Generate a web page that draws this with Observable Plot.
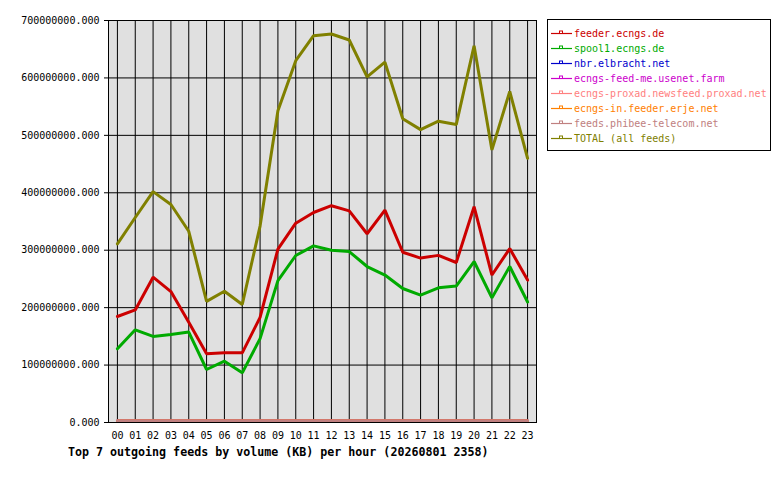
<!DOCTYPE html>
<html>
<head>
<meta charset="utf-8">
<script src="https://cdn.jsdelivr.net/npm/d3@7"></script>
<script src="https://cdn.jsdelivr.net/npm/@observablehq/plot@0.6"></script>
<style>
  html, body { margin: 0; padding: 0; background: #fff; }
  #wrap { position: relative; width: 780px; height: 480px; font-family: "DejaVu Sans Mono", monospace; }
  #legend { position: absolute; left: 547px; top: 19px; width: 224px; height: 132px; border: 1.5px solid #000; box-sizing: border-box; background: #fff; }
  .row { position: absolute; left: 2px; height: 15px; font-size: 10px; line-height: 15px; white-space: nowrap; }
  .row svg { position: absolute; left: 0; top: 0; }
  .row span { position: absolute; left: 24px; top: 0; }
  #caption { position: absolute; left: 68px; top: 445px; font-size: 11.65px; font-weight: bold; white-space: nowrap; }
</style>
</head>
<body>
<div id="wrap">
  <div id="chart"></div>
  <div id="legend"></div>
  <div id="caption"></div>
</div>
<script>
const hours = ["00","01","02","03","04","05","06","07","08","09","10","11","12","13","14","15","16","17","18","19","20","21","22","23"];
const seriesNames = ["feeder.ecngs.de","spool1.ecngs.de","nbr.elbracht.net","ecngs-feed-me.usenet.farm","ecngs-proxad.newsfeed.proxad.net","ecngs-in.feeder.erje.net","feeds.phibee-telecom.net","TOTAL (all feeds)"];
const seriesColors = ["#cc0000","#00aa00","#0000cc","#cc00cc","#ff8080","#ff8000","#c08080","#808000"];
const feeder = [184600000,196000000,253000000,228000000,174700000,119600000,121300000,121300000,183000000,302000000,347000000,365700000,377500000,368600000,328700000,369800000,296400000,286300000,291000000,278600000,375800000,256800000,302800000,248000000];
const spool1 = [128300000,161400000,149900000,153300000,157400000,92300000,106800000,86500000,146000000,247000000,290800000,307500000,299800000,297600000,271600000,256800000,233300000,221700000,234500000,237500000,280300000,217000000,271600000,209800000];
const nbr = [0,0,0,0,0,0,0,0,0,0,0,0,0,0,0,0,0,0,0,0,0,0,0,0];
const feedMe = [0,0,0,0,0,0,0,0,0,0,0,0,0,0,0,0,0,0,0,0,0,0,0,0];
const proxad = [0,0,0,0,0,0,0,0,0,0,0,0,0,0,0,0,0,0,0,0,0,0,0,0];
const erje = [0,0,0,0,0,0,0,0,0,0,0,0,0,0,0,0,0,0,0,0,0,0,0,0];
const phibee = [0,0,0,0,0,0,0,0,0,0,0,0,0,0,0,0,0,0,0,0,0,0,0,0];
const total = [311000000,357000000,402000000,379600000,333000000,211000000,228600000,205500000,342000000,543000000,630000000,673500000,676500000,666000000,601800000,627600000,529000000,510000000,524600000,518800000,656000000,474700000,576400000,460000000];
const yTicks = [0,100000000,200000000,300000000,400000000,500000000,600000000,700000000];
const captionText = "Top 7 outgoing feeds by volume (KB) per hour (20260801 2358)";

const seriesValues = [feeder, spool1, nbr, feedMe, proxad, erje, phibee, total];
const rows = [];
seriesValues.forEach((vals, i) => {
  vals.forEach((v, j) => rows.push({series: seriesNames[i], hour: hours[j], value: v, zero: d3.max(vals) === 0}));
});

const chart = Plot.plot({
  width: 780,
  height: 440,
  marginLeft: 108,
  marginRight: 244,
  marginTop: 20,
  marginBottom: 18,
  style: {fontFamily: "DejaVu Sans Mono, monospace", fontSize: "10px", background: "#fff", color: "#000"},
  x: {type: "point", domain: hours, padding: 0.5, round: false},
  y: {domain: [0, 700000000]},
  color: {domain: seriesNames, range: seriesColors},
  marks: [
    Plot.frame({fill: "#e0e0e0", stroke: null}),
    Plot.gridX(hours, {stroke: "#000", strokeOpacity: 1, strokeWidth: 1}),
    Plot.gridY(yTicks, {stroke: "#000", strokeOpacity: 1, strokeWidth: 1}),
    Plot.line(rows.filter(d => d.zero), {x: "hour", y: "value", z: "series", stroke: "series", strokeWidth: 3, dy: -1.5}),
    Plot.line(rows.filter(d => !d.zero), {x: "hour", y: "value", z: "series", stroke: "series", strokeWidth: 3, strokeLinejoin: "miter"}),
    Plot.axisY(yTicks, {tickSize: 4, tickPadding: 5, tickFormat: d3.format(".3f"), label: null, fontSize: 10}),
    Plot.axisX(hours, {tickSize: 0, tickPadding: 9, label: null, fontSize: 10}),
    Plot.frame({stroke: "#000", strokeWidth: 1})
  ]
});
document.getElementById("chart").appendChild(chart);

const legend = document.getElementById("legend");
seriesNames.forEach((name, i) => {
  const row = document.createElement("div");
  row.className = "row";
  row.style.top = (6 + i * 15) + "px";
  row.style.color = seriesColors[i];
  row.innerHTML = `<svg width="24" height="15"><line x1="1" x2="22" y1="7.5" y2="7.5" stroke="${seriesColors[i]}" stroke-width="1.2"/><rect x="9.5" y="5" width="3" height="2.5" fill="#fff" stroke="${seriesColors[i]}" stroke-width="1"/></svg><span>${name}</span>`;
  legend.appendChild(row);
});
document.getElementById("caption").textContent = captionText;
</script>
</body>
</html>
